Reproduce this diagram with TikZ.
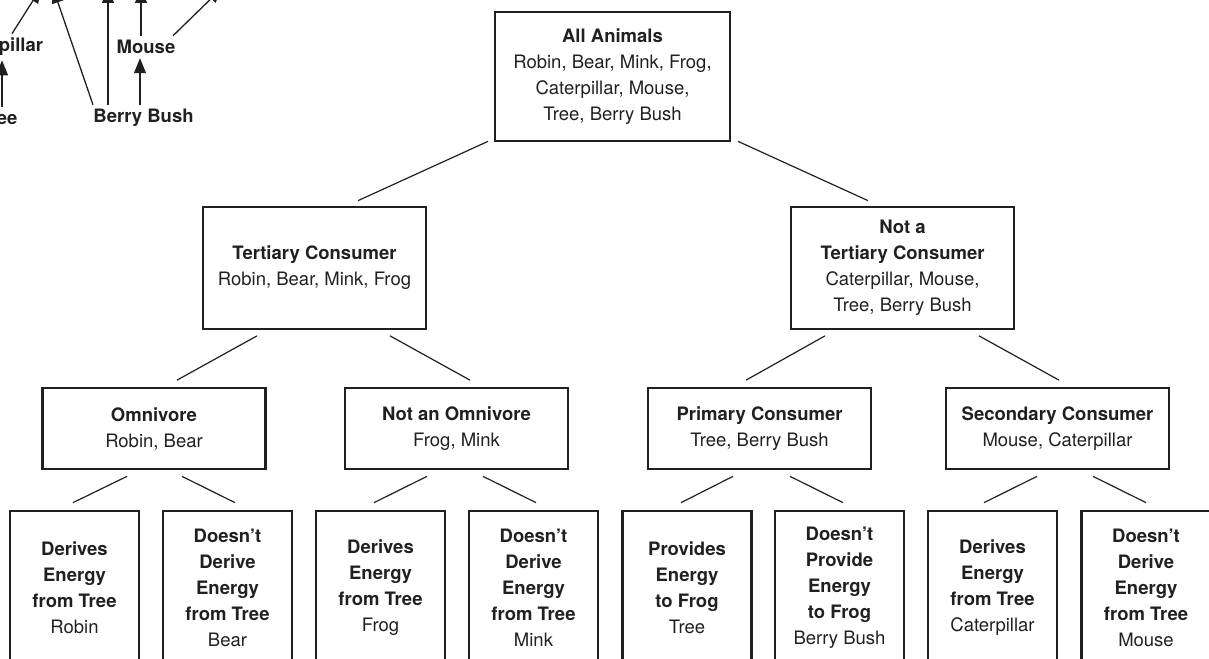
\documentclass[tikz,border=0pt]{standalone}
\usepackage{fontspec}
\setmainfont{TeX Gyre Heros}
\usetikzlibrary{calc,arrows.meta}
\definecolor{ink}{RGB}{35,31,32}
\newcommand{\hd}[1]{\textbf{#1}}

\begin{document}
\begin{tikzpicture}[x=0.5pt, y=-0.5pt, color=ink,
  box/.style={draw=ink, line width=1.35pt, align=center, inner sep=0pt,
    font=\fontsize{9.25}{13}\selectfont},
  wide/.style={box, minimum width=111.5pt, minimum height=61pt},
  mid/.style={box, minimum width=111.5pt, minimum height=40.5pt},
  leaf/.style={box, minimum width=64.5pt, minimum height=77pt},
  link/.style={line width=0.6pt},
  web/.style={font=\fontsize{9.25}{13}\selectfont\bfseries, inner sep=2pt},
  feed/.style={line width=0.65pt, -{Triangle[length=7.5pt,width=6pt]}}]
  \useasboundingbox (0,0) rectangle (1209,658);
  \clip (0,0) rectangle (1209,658);

  % food web, cut at the corner
  \node[web] (cat) at (-2.7,47) {Caterpillar};
  \node[web] (mouse) at (146,47) {Mouse};
  \node[web] (tree) at (-1.5,118) {Tree};
  \node[web] (bush) at (143.5,118) {Berry Bush};
  \coordinate (catup) at (41,-12);
  \coordinate (bushup) at (53,-12);
  \coordinate (bushtop) at (108,-12);
  \coordinate (mouseup) at (141,-12);
  \coordinate (mousetop) at (222,-12);
  \draw[feed] ($(tree.north)+(3.5,0)$) -- ($(cat.south)+(4.7,0)$);
  \draw[feed] ($(bush.north)+(-3.5,0)$) -- ($(mouse.south)+(-6,0)$);
  \draw[feed] ($(cat.north)+(14.7,0)$) -- (catup);
  \draw[feed] ($(bush.north)+(-50.5,0)$) -- (bushup);
  \draw[feed] ($(bush.north)+(-35.5,0)$) -- (bushtop);
  \draw[feed] ($(mouse.north)+(-5,0)$) -- (mouseup);
  \draw[feed] ($(mouse.north)+(27,0)$) -- (mousetop);

  % key
  \node[box, minimum width=117.5pt, minimum height=64.5pt] (all) at (612.5,76.5)
    {\hd{All Animals}\\Robin, Bear, Mink, Frog,\\Caterpillar, Mouse,\\Tree, Berry Bush};

  \node[wide] (tert) at (314.5,268) {\hd{Tertiary Consumer}\\Robin, Bear, Mink, Frog};
  \node[wide] (nottert) at (902.5,268)
    {\hd{Not a}\\\hd{Tertiary Consumer}\\Caterpillar, Mouse,\\Tree, Berry Bush};

  \node[mid] (omni) at (154,428.5) {\hd{Omnivore}\\Robin, Bear};
  \node[mid] (notomni) at (456.5,428.5) {\hd{Not an Omnivore}\\Frog, Mink};
  \node[mid] (prim) at (759.5,428.5) {\hd{Primary Consumer}\\Tree, Berry Bush};
  \node[mid] (sec) at (1057.5,428.5) {\hd{Secondary Consumer}\\Mouse, Caterpillar};

  \node[leaf] (d1) at (74.5,588) {\hd{Derives}\\\hd{Energy}\\\hd{from Tree}\\Robin};
  \node[leaf] (d2) at (227.5,588) {\hd{Doesn't}\\\hd{Derive}\\\hd{Energy}\\\hd{from Tree}\\Bear};
  \node[leaf] (d3) at (380.5,588) {\hd{Derives}\\\hd{Energy}\\\hd{from Tree}\\Frog};
  \node[leaf] (d4) at (533.5,588) {\hd{Doesn't}\\\hd{Derive}\\\hd{Energy}\\\hd{from Tree}\\Mink};
  \node[leaf] (d5) at (687,588) {\hd{Provides}\\\hd{Energy}\\\hd{to Frog}\\Tree};
  \node[leaf] (d6) at (839.5,588) {\hd{Doesn't}\\\hd{Provide}\\\hd{Energy}\\\hd{to Frog}\\Berry Bush};
  \node[leaf] (d7) at (992.5,588) {\hd{Derives}\\\hd{Energy}\\\hd{from Tree}\\Caterpillar};
  \node[leaf] (d8) at (1146,588) {\hd{Doesn't}\\\hd{Derive}\\\hd{Energy}\\\hd{from Tree}\\Mouse};

  \draw[link] ($(all.south)+(-124.5,-1)$) -- ($(tert.north)+(43.5,-5)$);
  \draw[link] ($(all.south)+(125.5,-1)$) -- ($(nottert.north)+(-34.5,-5)$);
  \foreach \p/\c/\a/\b in {tert/omni/-57.5/23, tert/notomni/75.5/13.5,
      nottert/prim/-77.5/-13.5, nottert/sec/76.5/1.5}
    \draw[link] ($(\p.south)+(\a,5.5)$) -- ($(\c.north)+(\b,-6.5)$);
  \foreach \p/\c/\a/\b in {omni/d1/-27/-1.5, omni/d2/28/7.5,
      notomni/d3/-29.5/-6.5, notomni/d4/26.5/2.5,
      prim/d5/-26.5/-6, prim/d6/30.5/3.5,
      sec/d7/-20.5/-8.5, sec/d8/35.5/0}
    \draw[link] ($(\p.south)+(\a,6)$) -- ($(\c.north)+(\b,-7)$);
\end{tikzpicture}
\end{document}
